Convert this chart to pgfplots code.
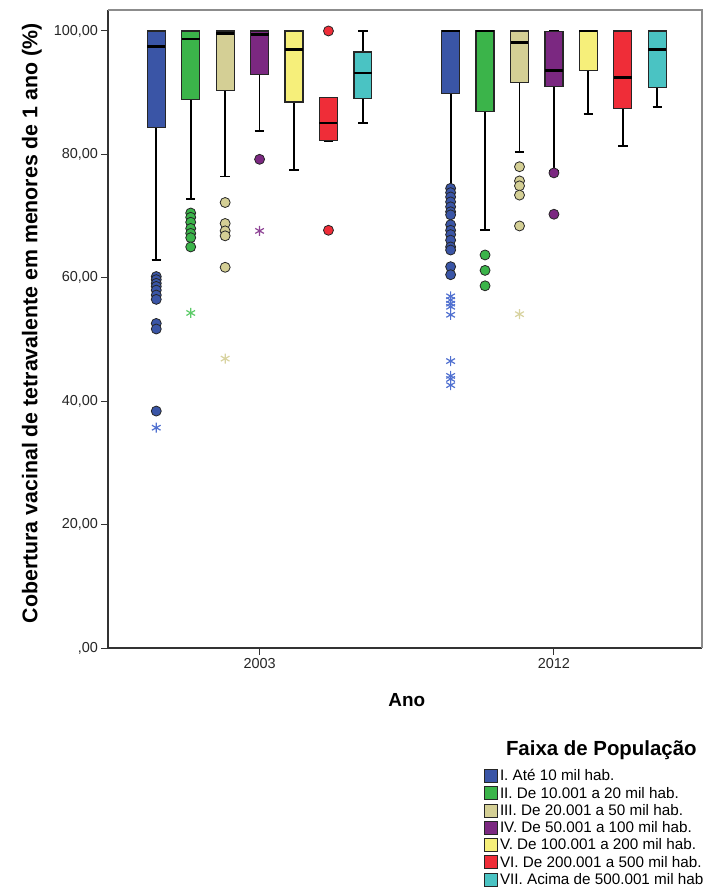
\documentclass[border=0pt]{standalone}
\usepackage{pgfplots}
\pgfplotsset{compat=1.18}
\usepgfplotslibrary{statistics}
\usepackage{fontspec}
\setmainfont{Liberation Sans}
\usetikzlibrary{plotmarks}
\definecolor{cI}{HTML}{3A55A6}
\definecolor{cII}{HTML}{3BB44A}
\definecolor{cIII}{HTML}{D4CF95}
\definecolor{cIV}{HTML}{7B2881}
\definecolor{cV}{HTML}{F6EF7A}
\definecolor{cVI}{HTML}{EF2D38}
\definecolor{cVII}{HTML}{4AC3C3}
\definecolor{sI}{HTML}{5070D0}
\definecolor{sII}{HTML}{5CCB68}
\definecolor{sIII}{HTML}{D8D3A0}
\definecolor{sIV}{HTML}{8F4596}
\pgfplotsset{
  bx/.style={draw=black!85, fill=#1, line width=1.2bp},
  oc/.style={only marks, mark=*, mark size=5bp, mark options={fill=#1, draw=black!85, line width=0.8bp}},
  os/.style={only marks, mark=asterisk, mark size=5bp, mark options={draw=#1, line width=1.2bp}},
  lg/.style={legend image code/.code={\draw[fill=#1, draw=black!85, line width=0.8bp] (0bp,-6.5bp) rectangle (12.5bp,6.5bp);}},
}
\begin{document}
\begin{tikzpicture}
\path[use as bounding box] (-108bp,-240bp) rectangle (595bp,648bp);
\begin{axis}[
  scale only axis, width=594bp, height=638bp,
  xmin=-0.515, xmax=1.503, ymin=0, ymax=103.4,
  axis x line*=bottom, axis y line*=left,
  axis line style={line width=1.2bp, color=black!80},
  tick align=outside, major tick length=6.5bp,
  tick style={line width=1bp, color=black!80},
  xtick={0,1}, xticklabels={2003,2012},
  ytick={0,20,40,60,80,100},
  yticklabels={{,00},{20,00},{40,00},{60,00},{80,00},{100,00}},
  ticklabel style={font=\fontsize{14.5}{16}\selectfont, color=black!85},
  xlabel={Ano}, ylabel={Cobertura vacinal de tetravalente em menores de 1 ano (\%)},
  xlabel style={font=\fontsize{19}{22}\selectfont\bfseries, at={(axis description cs:0.503,-0.0815)}, anchor=center},
  ylabel style={font=\fontsize{21.4}{24}\selectfont\bfseries, at={(axis description cs:-0.128,0.509)}, anchor=center},
  boxplot/draw direction=y,
  boxplot/box extend=0.061,
  boxplot/whisker extend=0.032,
  boxplot/every median/.style={line width=2.8bp, draw=black},
  boxplot/every whisker/.style={line width=1.8bp, draw=black},
  clip=false,
  legend style={at={(axis description cs:0.633,-0.1442)}, anchor=north west, draw=none, fill=none,
    font=\fontsize{15.3}{17}\selectfont, row sep=0pt, inner sep=0pt,
    nodes={inner sep=0pt, text height=13.5bp, text depth=3.8bp},
    cells={anchor=west},
    /tikz/every odd column/.append style={column sep=2.5bp}},
]
\addlegendimage{empty legend}
\addlegendentry[text depth=12bp, text height=15bp]{\hspace{6bp}\fontsize{20.5}{22}\selectfont\bfseries Faixa de População}
\addlegendimage{lg=cI}\addlegendentry{I. Até 10 mil hab.}
\addlegendimage{lg=cII}\addlegendentry{II. De 10.001 a 20 mil hab.}
\addlegendimage{lg=cIII}\addlegendentry{III. De 20.001 a 50 mil hab.}
\addlegendimage{lg=cIV}\addlegendentry{IV. De 50.001 a 100 mil hab.}
\addlegendimage{lg=cV}\addlegendentry{V. De 100.001 a 200 mil hab.}
\addlegendimage{lg=cVI}\addlegendentry{VI. De 200.001 a 500 mil hab.}
\addlegendimage{lg=cVII}\addlegendentry{VII. Acima de 500.001 mil hab}

% ---- 2003 ----
\addplot[bx=cI, boxplot prepared={draw position=-0.351, lower whisker=62.9, lower quartile=84.3, median=97.45, upper quartile=100, upper whisker=100}] coordinates {};
\addplot[bx=cII, boxplot prepared={draw position=-0.234, lower whisker=72.8, lower quartile=88.9, median=98.7, upper quartile=100, upper whisker=100}] coordinates {};
\addplot[bx=cIII, boxplot prepared={draw position=-0.117, lower whisker=76.4, lower quartile=90.4, median=99.6, upper quartile=100, upper whisker=100}] coordinates {};
\addplot[bx=cIV, boxplot prepared={draw position=0, lower whisker=83.8, lower quartile=93.0, median=99.4, upper quartile=100, upper whisker=100}] coordinates {};
\addplot[bx=cV, boxplot prepared={draw position=0.117, lower whisker=77.5, lower quartile=88.5, median=97.0, upper quartile=100, upper whisker=100}] coordinates {};
\addplot[bx=cVI, boxplot prepared={draw position=0.234, lower whisker=82.2, lower quartile=82.2, median=85.1, upper quartile=89.2, upper whisker=89.2}] coordinates {};
\addplot[bx=cVII, boxplot prepared={draw position=0.351, lower whisker=85.1, lower quartile=89.1, median=93.2, upper quartile=96.6, upper whisker=100}] coordinates {};
% ---- 2012 ----
\addplot[bx=cI, boxplot prepared={draw position=0.649, lower whisker=74.8, lower quartile=89.9, median=100, upper quartile=100, upper whisker=100}] coordinates {};
\addplot[bx=cII, boxplot prepared={draw position=0.766, lower whisker=67.8, lower quartile=86.9, median=100, upper quartile=100, upper whisker=100}] coordinates {};
\addplot[bx=cIII, boxplot prepared={draw position=0.883, lower whisker=80.4, lower quartile=91.6, median=98.1, upper quartile=100, upper whisker=100}] coordinates {};
\addplot[bx=cIV, boxplot prepared={draw position=1.0, lower whisker=77.3, lower quartile=91.0, median=93.6, upper quartile=99.9, upper whisker=100}] coordinates {};
\addplot[bx=cV, boxplot prepared={draw position=1.117, lower whisker=86.5, lower quartile=93.6, median=100, upper quartile=100, upper whisker=100}] coordinates {};
\addplot[bx=cVI, boxplot prepared={draw position=1.234, lower whisker=81.4, lower quartile=87.5, median=92.4, upper quartile=100, upper whisker=100}] coordinates {};
\addplot[bx=cVII, boxplot prepared={draw position=1.351, lower whisker=87.7, lower quartile=90.8, median=97.0, upper quartile=100, upper whisker=100}] coordinates {};

% ---- outliers 2003 ----
\addplot[oc=cI] coordinates {(-0.351,60.2) (-0.351,59.7) (-0.351,59.1) (-0.351,58.6) (-0.351,58.0) (-0.351,57.2) (-0.351,56.5) (-0.351,52.6) (-0.351,51.7) (-0.351,38.4)};
\addplot[os=sI] coordinates {(-0.351,35.7)};
\addplot[oc=cII] coordinates {(-0.234,70.5) (-0.234,69.8) (-0.234,69.0) (-0.234,68.0) (-0.234,67.2) (-0.234,66.5) (-0.234,65.0)};
\addplot[os=sII] coordinates {(-0.234,54.3)};
\addplot[oc=cIII] coordinates {(-0.117,72.2) (-0.117,68.8) (-0.117,67.6) (-0.117,66.8) (-0.117,61.7)};
\addplot[os=sIII] coordinates {(-0.117,46.9)};
\addplot[oc=cIV] coordinates {(0,79.2)};
\addplot[os=sIV] coordinates {(0,67.6)};
\addplot[oc=cVI] coordinates {(0.234,100) (0.234,67.7)};
% ---- outliers 2012 ----
\addplot[oc=cI] coordinates {(0.649,74.5) (0.649,73.8) (0.649,73.1) (0.649,72.3) (0.649,71.5) (0.649,70.7) (0.649,70.2) (0.649,68.6) (0.649,67.7) (0.649,67.0) (0.649,66.1) (0.649,65.0) (0.649,64.5) (0.649,61.8) (0.649,60.5)};
\addplot[os=sI] coordinates {(0.649,57.0) (0.649,56.4) (0.649,55.8) (0.649,55.3) (0.649,54.0) (0.649,46.5) (0.649,44.1) (0.649,43.6) (0.649,42.6)};
\addplot[oc=cII] coordinates {(0.766,63.7) (0.766,61.2) (0.766,58.7)};
\addplot[oc=cIII] coordinates {(0.883,78.0) (0.883,75.7) (0.883,74.9) (0.883,73.4) (0.883,68.4)};
\addplot[os=sIII] coordinates {(0.883,54.1)};
\addplot[oc=cIV] coordinates {(1.0,77.0) (1.0,70.3)};

\draw[line width=1.2bp, color=black!45] (rel axis cs:0,1) -- (rel axis cs:1,1) -- (rel axis cs:1,0);
\end{axis}
\end{tikzpicture}
\end{document}
